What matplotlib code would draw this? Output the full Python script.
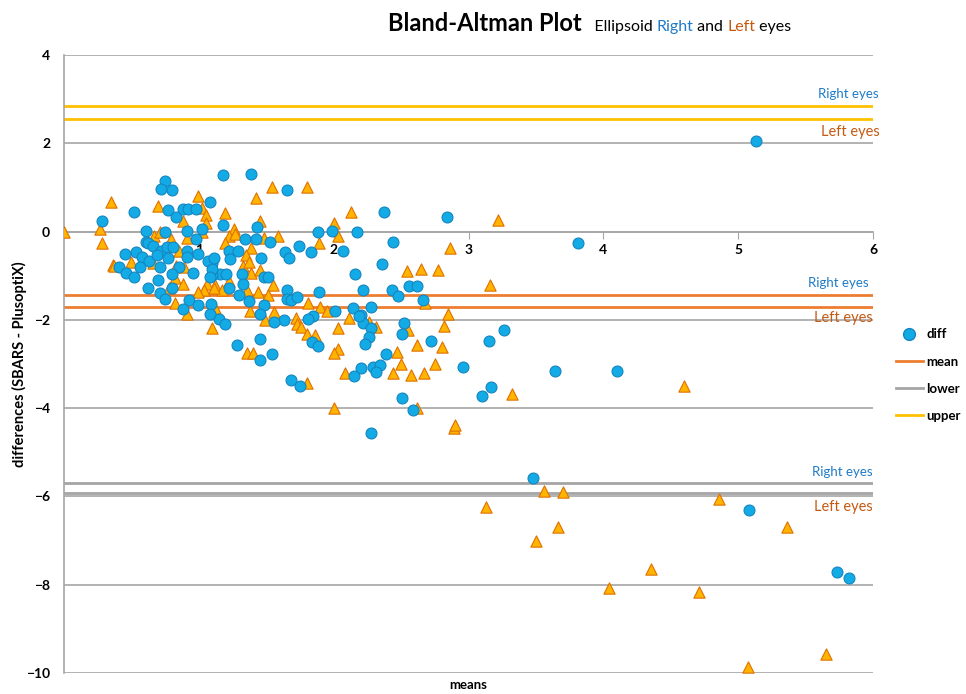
import matplotlib
matplotlib.use("Agg")
import matplotlib.pyplot as plt
from matplotlib.lines import Line2D

plt.rcParams["font.family"] = ["Lato", "DejaVu Sans"]

# ── data ───────────────────────────────────────────────────────────────────────
right_x = [5.13, 3.81, 3.48, 5.08, 5.73, 5.82, 4.10, 3.64, 3.17, 3.10, 3.15, 3.26,
           2.96, 2.84, 2.37, 2.44, 2.36, 2.22, 2.43, 2.48, 2.56, 2.62, 2.66, 2.28,
           2.20, 2.22, 2.52, 2.28, 2.51, 2.26, 2.23, 2.72, 2.39, 2.20, 2.29, 2.34,
           2.31, 2.51, 2.59, 2.28, 1.18, 1.39, 1.65, 1.08, 1.18, 1.43, 1.88, 1.99,
           2.17, 1.34, 1.42, 1.53, 1.74, 2.07, 1.83, 1.64, 1.67, 1.22, 1.29, 1.46,
           1.23, 2.16, 1.48, 1.51, 1.16, 1.20, 1.32, 1.33, 1.10, 1.10, 1.89, 1.65,
           1.22, 1.30, 1.37, 1.65, 1.68, 1.73, 1.48, 2.01, 2.14, 1.45, 2.19, 1.85,
           1.81, 1.63, 1.56, 1.15, 1.19, 1.45, 1.28, 1.84, 1.88, 1.54, 1.45, 2.15,
           1.68, 1.75, 0.28, 0.52, 0.75, 0.72, 0.80, 0.77, 0.88, 0.92, 0.98, 0.83,
           0.61, 0.75, 0.91, 1.02, 0.98, 0.61, 0.62, 0.66, 0.72, 0.76, 0.81, 0.91,
           0.91, 0.99, 0.45, 0.53, 0.58, 0.63, 0.69, 0.77, 0.85, 0.71, 0.56, 0.41,
           0.46, 0.52, 0.80, 0.96, 0.70, 0.62, 0.80, 0.71, 1.07, 1.10, 1.08, 1.11,
           0.75, 0.93, 0.99, 0.88, 1.09, 1.08]
right_y = [2.04, -0.27, -5.59, -6.31, -7.71, -7.85, -3.17, -3.17, -3.53, -3.73, -2.49, -2.22,
           -3.08, 0.32, 0.45, -0.23, -0.73, -1.33, -1.33, -1.47, -1.24, -1.24, -1.54, -1.72,
           -1.90, -2.08, -2.08, -2.19, -2.33, -2.38, -2.54, -2.47, -2.78, -3.10, -3.08, -3.03,
           -3.19, -3.78, -4.05, -4.57, 1.27, 1.31, 0.93, 0.68, 0.14, 0.11, 0.00, 0.02,
           -0.02, -0.18, -0.16, -0.23, -0.32, -0.43, -0.47, -0.47, -0.59, -0.45, -0.43, -0.59,
           -0.63, -0.97, -1.02, -1.02, -0.97, -0.97, -0.97, -1.18, -0.72, -0.99, -1.38, -1.33,
           -1.29, -1.43, -1.58, -1.52, -1.56, -1.49, -1.67, -1.79, -1.74, -1.86, -1.92, -1.92,
           -1.99, -2.01, -2.04, -1.99, -2.10, -2.44, -2.58, -2.51, -2.60, -2.78, -2.92, -3.28,
           -3.37, -3.51, 0.25, 0.45, 1.15, 0.97, 0.93, 0.48, 0.50, 0.50, 0.52, 0.32,
           0.02, -0.02, 0.02, 0.05, -0.16, -0.23, -0.27, -0.32, -0.45, -0.36, -0.36, -0.43,
           -0.57, -0.50, -0.50, -0.47, -0.57, -0.66, -0.54, -0.59, -0.81, -0.81, -0.81, -0.81,
           -0.95, -1.04, -0.97, -0.95, -1.09, -1.27, -1.27, -1.40, -0.66, -0.84, -1.04, -0.61,
           -1.52, -1.56, -1.67, -1.76, -1.65, -1.86]

left_x = [0.00, 3.56, 3.70, 4.86, 3.66, 3.50, 5.36, 4.35, 4.04, 4.71, 5.07, 5.65,
          4.60, 3.13, 3.22, 3.16, 3.32, 2.89, 2.90, 2.86, 2.54, 2.65, 2.77, 2.68,
          2.85, 2.82, 2.55, 2.31, 2.26, 2.62, 2.80, 2.47, 2.50, 2.75, 2.44, 2.57,
          2.67, 2.62, 1.54, 1.80, 1.42, 2.13, 1.19, 2.00, 1.45, 1.26, 1.22, 1.27,
          1.48, 1.59, 2.03, 1.89, 1.19, 1.39, 1.35, 1.33, 1.37, 1.39, 1.45, 1.55,
          1.22, 1.12, 1.36, 1.44, 1.17, 1.51, 1.81, 1.90, 1.95, 1.38, 1.56, 1.11,
          1.72, 2.11, 1.49, 1.73, 1.76, 1.10, 2.03, 1.80, 1.86, 2.03, 2.00, 1.36,
          1.40, 2.08, 1.80, 2.00, 0.35, 0.27, 0.28, 0.70, 0.99, 1.02, 1.05, 1.05,
          0.88, 1.02, 0.91, 0.79, 0.67, 0.71, 0.85, 0.59, 0.50, 0.36, 0.37, 0.83,
          0.89, 0.66, 0.82, 0.88, 0.78, 1.06, 1.04, 0.82, 0.91, 0.99, 1.11, 1.12]
left_y = [0.00, -5.88, -5.90, -6.06, -6.70, -7.01, -6.70, -7.65, -8.08, -8.17, -9.86, -9.57,
          -3.51, -6.24, 0.27, -1.22, -3.67, -4.46, -4.39, -0.38, -0.90, -0.84, -0.86, -1.63,
          -1.86, -2.13, -2.22, -2.17, -2.06, -2.58, -2.62, -2.74, -3.01, -2.99, -3.21, -3.24,
          -3.21, -4.00, 1.02, 1.00, 0.75, 0.45, 0.43, 0.20, 0.23, 0.05, -0.09, -0.05,
          -0.14, -0.09, -0.09, -0.25, -0.27, -0.38, -0.54, -0.77, -0.68, -0.93, -0.88, -1.22,
          -1.13, -1.22, -1.33, -1.38, -1.33, -1.43, -1.61, -1.70, -1.79, -1.79, -1.83, -1.72,
          -1.95, -1.95, -2.01, -2.10, -2.17, -2.19, -2.19, -2.31, -2.35, -2.67, -2.76, -2.76,
          -2.76, -3.21, -3.42, -4.00, 0.68, 0.05, -0.27, 0.57, 0.81, 0.54, 0.38, 0.20,
          0.23, -0.02, -0.14, -0.16, -0.11, -0.02, -0.43, -0.61, -0.70, -0.75, -0.79, -0.79,
          -0.81, -0.72, -1.06, -1.18, -1.27, -1.18, -1.33, -1.63, -1.86, -1.38, -1.27, -1.74]

# limits of agreement (right, left)
mean_lines = [-1.43, -1.70]
lower_lines = [-5.70, -5.93]
upper_lines = [2.85, 2.56]

# ── palette ────────────────────────────────────────────────────────────────────
BLUE_FILL, BLUE_EDGE = "#12ABE6", "#1685BF"
TRI_FILL, TRI_EDGE = "#FFB400", "#E07000"
C_MEAN, C_LOWER, C_UPPER = "#ED7D31", "#A5A5A5", "#FFC000"
C_RIGHT, C_LEFT = "#1F7BC8", "#C55A11"

fig = plt.figure(figsize=(9.66, 6.94), dpi=100)
ax = fig.add_axes([0.0663, 0.0303, 0.8375, 0.8905])

ax.set_xlim(0, 6)
ax.set_ylim(-10, 4)
ax.set_yticks(range(-10, 5, 2))
ax.set_xticks(range(1, 7))
ax.yaxis.grid(True, color="#A6A6A6", lw=1.2)
ax.set_axisbelow(True)

for s in ("top", "right"):
    ax.spines[s].set_visible(False)
ax.spines["left"].set_color("#A6A6A6")
ax.spines["left"].set_linewidth(1.2)
ax.spines["bottom"].set_position(("data", 0))
ax.spines["bottom"].set_color("#A6A6A6")
ax.spines["bottom"].set_linewidth(1.2)
ax.tick_params(axis="y", length=0, pad=10, labelsize=10)
ax.tick_params(axis="x", length=5, color="#A6A6A6", direction="out", labelsize=10, pad=4)
for lab in ax.get_xticklabels() + ax.get_yticklabels():
    lab.set_fontweight("bold")

for y in upper_lines:
    ax.axhline(y, color=C_UPPER, lw=2, zorder=2)
for y in mean_lines:
    ax.axhline(y, color=C_MEAN, lw=2, zorder=2)
for y in lower_lines:
    ax.axhline(y, color=C_LOWER, lw=2, zorder=2)

ax.scatter(left_x, left_y, marker="^", s=66, facecolor=TRI_FILL, edgecolor=TRI_EDGE,
           linewidth=0.8, zorder=3)
ax.scatter(right_x, right_y, marker="o", s=62, facecolor=BLUE_FILL, edgecolor=BLUE_EDGE,
           linewidth=0.8, zorder=4)

# line annotations
ax.text(6.04, upper_lines[0] + 0.12, "Right eyes", color=C_RIGHT, fontsize=9.5, ha="right", va="bottom")
ax.text(6.05, upper_lines[1] - 0.15, "Left eyes", color=C_LEFT, fontsize=10.5, ha="right", va="top")
ax.text(5.97, mean_lines[0] + 0.12, "Right eyes", color=C_RIGHT, fontsize=9.5, ha="right", va="bottom")
ax.text(6.0, mean_lines[1] - 0.1, "Left eyes", color=C_LEFT, fontsize=10.5, ha="right", va="top")
ax.text(6.0, lower_lines[0] + 0.12, "Right eyes", color=C_RIGHT, fontsize=9.5, ha="right", va="bottom")
ax.text(6.0, lower_lines[1] - 0.15, "Left eyes", color=C_LEFT, fontsize=10.5, ha="right", va="top")

ax.set_ylabel("differences (SBARS - PlusoptiX)", fontsize=10.5, fontweight="bold")
ax.yaxis.set_label_coords(-0.046, 0.5)
ax.set_xlabel("means", fontsize=9.5, fontweight="bold")
ax.xaxis.set_label_coords(0.5, -0.01)
ax.xaxis.label.set_va("top")

handles = [
    Line2D([], [], marker="o", ls="none", markersize=8.5, markerfacecolor=BLUE_FILL,
           markeredgecolor=BLUE_EDGE, label="diff"),
    Line2D([], [], color=C_MEAN, lw=2, label="mean"),
    Line2D([], [], color=C_LOWER, lw=2, label="lower"),
    Line2D([], [], color=C_UPPER, lw=2, label="upper"),
]
leg = ax.legend(handles=handles, loc="center left", bbox_to_anchor=(1.022, 0.482),
                frameon=False, fontsize=9.5, handlelength=2.0, labelspacing=1.15,
                handletextpad=0.3, borderaxespad=0)
for t in leg.get_texts():
    t.set_fontweight("bold")

# title made of coloured pieces
fig.canvas.draw()
renderer = fig.canvas.get_renderer()
pieces = [("Bland-Altman Plot", "black", 17, "bold"), ("   Ellipsoid ", "black", 11.5, "normal"),
          ("Right", C_RIGHT, 11.5, "normal"), (" and ", "black", 11.5, "normal"),
          ("Left", C_LEFT, 11.5, "normal"), (" eyes", "black", 11.5, "normal")]
x = 388 / 966
for txt, col, size, weight in pieces:
    t = fig.text(x, 0.955, txt, color=col, fontsize=size, fontweight=weight, ha="left",
                 va="baseline")
    bb = t.get_window_extent(renderer=renderer)
    x = bb.x1 / fig.bbox.width

fig.savefig("out.png", dpi=100)
